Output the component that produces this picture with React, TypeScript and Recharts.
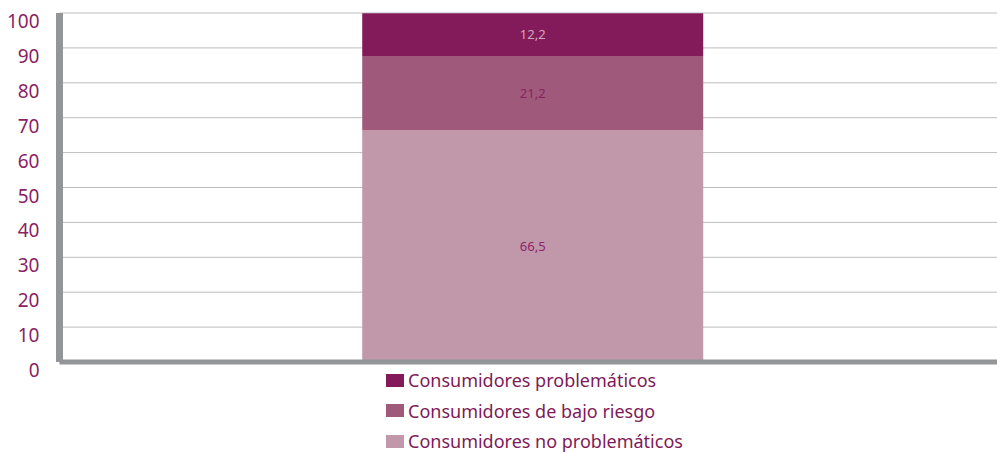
import React from 'react';
import { BarChart, Bar, XAxis, YAxis, CartesianGrid, Legend, LabelList } from 'recharts';

const categories = ['Consumo'];
const noProblematicos = [66.5];
const bajoRiesgo = [21.2];
const problematicos = [12.2];
const yTicks = [0, 10, 20, 30, 40, 50, 60, 70, 80, 90, 100];

const seriesNames = {
  prob: 'Consumidores problemáticos',
  bajo: 'Consumidores de bajo riesgo',
  noProb: 'Consumidores no problemáticos',
};

const data = categories.map((c, i) => ({
  name: c,
  noProb: noProblematicos[i],
  bajo: bajoRiesgo[i],
  prob: problematicos[i],
}));

const FONT = '"Noto Sans", "Lato", sans-serif';
const PURPLE = '#8a1f64';

const legendItems = [
  { key: 'prob', color: '#831b5b' },
  { key: 'bajo', color: '#9f5a7b' },
  { key: 'noProb', color: '#c197aa' },
];

const YTick = (props: any) => {
  const { x, y, payload } = props;
  return (
    <text x={x - 12} y={y + 8} textAnchor="end" dominantBaseline="central" fill={PURPLE} fontSize={19} fontFamily={FONT}>
      {payload.value}
    </text>
  );
};

const fmt = (v: any) => String(v).replace('.', ',');

const LegendContent = () => (
  <div style={{ fontFamily: FONT }}>
    {legendItems.map((it) => (
      <div key={it.key} style={{ display: 'flex', alignItems: 'center', height: 30.5 }}>
        <div style={{ width: 18, height: 13, background: it.color, marginRight: 4 }} />
        <span style={{ color: '#7e1a58', fontSize: 18, lineHeight: '18px' }}>{(seriesNames as any)[it.key]}</span>
      </div>
    ))}
  </div>
);

export default function App() {
  return (
    <div style={{ position: 'absolute', left: 0, top: 0, width: 997, height: 453, background: '#fff', overflow: 'hidden' }}>
      <BarChart
        width={997}
        height={453}
        data={data}
        margin={{ top: 13, right: -8.5, left: 0, bottom: 0 }}
        barCategoryGap="32%"
      >
        <CartesianGrid vertical={false} stroke="#bdbdbd" strokeWidth={1} />
        <XAxis
          dataKey="name"
          height={91}
          tick={false}
          tickLine={false}
          axisLine={{ stroke: '#939598', strokeWidth: 5 }}
        />
        <YAxis
          width={59.5}
          domain={[0, 100]}
          ticks={yTicks}
          interval={0}
          tick={<YTick />}
          tickLine={false}
          axisLine={{ stroke: '#939598', strokeWidth: 7 }}
        />
        <Legend
          layout="horizontal"
          verticalAlign="middle"
          align="center"
          content={<LegendContent />}
          wrapperStyle={{ top: 365, left: 386, width: 'auto' }}
        />
        <Bar dataKey="noProb" stackId="a" fill="#c197aa" isAnimationActive={false} name={seriesNames.noProb}>
          <LabelList dataKey="noProb" position="center" formatter={fmt} fill="#8a2566" fontSize={13} fontFamily={FONT} />
        </Bar>
        <Bar dataKey="bajo" stackId="a" fill="#9f5a7b" isAnimationActive={false} name={seriesNames.bajo}>
          <LabelList dataKey="bajo" position="center" formatter={fmt} fill="#8a1f5e" fontSize={13} fontFamily={FONT} />
        </Bar>
        <Bar dataKey="prob" stackId="a" fill="#831b5b" isAnimationActive={false} name={seriesNames.prob}>
          <LabelList dataKey="prob" position="center" formatter={fmt} fill="#d2a6bf" fontSize={13} fontFamily={FONT} />
        </Bar>
      </BarChart>
    </div>
  );
}
